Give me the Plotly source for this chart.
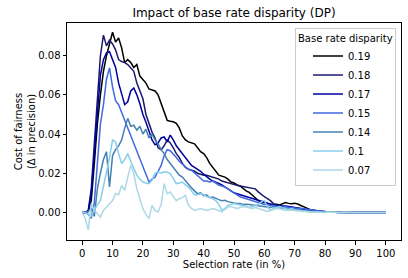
import plotly.graph_objects as go

selection_rate = list(range(0, 101))

disparities = ["0.19", "0.18", "0.17", "0.15", "0.14", "0.1", "0.07"]
colors = ["#000000", "#191970", "#00009c", "#4169e1", "#4682b4", "#87ceeb", "#add8e6"]

tail_zero = [0.0002, 0.0001, 0.0001, 0.0, 0.0, 0.0001, 0.0, 0.0, 0.0, 0.0, 0.0, 0.0, 0.0, 0.0, 0.0, 0.0, 0.0, 0.0, 0.0, 0.0]

cost_019 = [
    0.0, 0.0, 0.0005, 0.006, 0.025, 0.045, 0.060, 0.072, 0.080, 0.086,
    0.092, 0.087, 0.089, 0.084, 0.0765, 0.078, 0.0765, 0.074, 0.0755, 0.0696,
    0.068, 0.066, 0.063, 0.0625, 0.062, 0.060, 0.056, 0.052, 0.047, 0.0465,
    0.0463, 0.0455, 0.043, 0.039, 0.037, 0.036, 0.0355, 0.035, 0.033, 0.031,
    0.030, 0.028, 0.025, 0.023, 0.021, 0.019, 0.0185, 0.018, 0.017, 0.0155,
    0.015, 0.014, 0.0135, 0.012, 0.011, 0.0102, 0.009, 0.0075, 0.006, 0.0055,
    0.005, 0.0045, 0.004, 0.004, 0.0042, 0.0038, 0.0045, 0.005, 0.0046, 0.0044,
    0.0046, 0.0043, 0.0035, 0.003, 0.0022, 0.0015, 0.001, 0.0008, 0.0006, 0.0004,
    0.0003,
] + tail_zero

cost_018 = [
    0.0, 0.0, 0.001, 0.012, 0.035, 0.058, 0.080, 0.0905, 0.085, 0.088,
    0.086, 0.083, 0.078, 0.077, 0.0765, 0.0755, 0.074, 0.072, 0.066, 0.062,
    0.058, 0.050, 0.045, 0.041, 0.038, 0.033, 0.032, 0.034, 0.037, 0.0355,
    0.033, 0.030, 0.028, 0.025, 0.023, 0.022, 0.0215, 0.021, 0.020, 0.0195,
    0.019, 0.019, 0.0185, 0.018, 0.0175, 0.017, 0.016, 0.0155, 0.015, 0.0145,
    0.014, 0.0138, 0.0135, 0.0132, 0.013, 0.0128, 0.0125, 0.012, 0.0105, 0.009,
    0.008, 0.007, 0.006, 0.0045, 0.0036, 0.003, 0.0032, 0.003, 0.0028, 0.0025,
    0.0025, 0.002, 0.0018, 0.0015, 0.0012, 0.001, 0.0008, 0.0006, 0.0004, 0.0003,
    0.0002,
] + tail_zero

cost_017 = [
    0.0, 0.0, 0.0005, 0.010, 0.030, 0.052, 0.070, 0.078, 0.0815, 0.082,
    0.078, 0.074, 0.066, 0.060, 0.055, 0.0565, 0.062, 0.0635, 0.060, 0.0555,
    0.050, 0.046, 0.041, 0.037, 0.0345, 0.0355, 0.038, 0.0385, 0.036, 0.0395,
    0.037, 0.034, 0.032, 0.030, 0.028, 0.026, 0.024, 0.023, 0.022, 0.021,
    0.0195, 0.018, 0.017, 0.016, 0.0155, 0.0148, 0.014, 0.013, 0.012, 0.011,
    0.010, 0.0095, 0.009, 0.0085, 0.008, 0.0075, 0.007, 0.0065, 0.006, 0.0055,
    0.005, 0.0045, 0.004, 0.0038, 0.0035, 0.0035, 0.003, 0.0032, 0.003, 0.0028,
    0.0025, 0.0022, 0.002, 0.0018, 0.0015, 0.0012, 0.001, 0.0008, 0.0006, 0.0004,
    0.0002,
] + tail_zero

cost_015 = [
    0.0, 0.0, -0.001, -0.003, 0.005, 0.025, 0.045, 0.055, 0.068, 0.0738,
    0.064, 0.057, 0.055, 0.051, 0.047, 0.044, 0.040, 0.036, 0.032, 0.028,
    0.024, 0.019, 0.0155, 0.017, 0.018, 0.021, 0.024, 0.029, 0.032, 0.0315,
    0.030, 0.028, 0.026, 0.0245, 0.023, 0.022, 0.0215, 0.020, 0.019, 0.0175,
    0.016, 0.016, 0.0155, 0.016, 0.015, 0.014, 0.0135, 0.013, 0.012, 0.011,
    0.010, 0.009, 0.008, 0.0075, 0.007, 0.0065, 0.006, 0.0055, 0.005, 0.0045,
    0.004, 0.004, 0.0035, 0.0035, 0.003, 0.003, 0.0028, 0.003, 0.0025, 0.0025,
    0.0022, 0.002, 0.002, 0.0018, 0.0016, 0.0013, 0.001, 0.0008, 0.0005, 0.0003,
    0.0002,
] + tail_zero

cost_014 = [
    0.0, 0.0, 0.0005, 0.002, -0.002, 0.012, 0.020, 0.027, 0.031, 0.013,
    0.029, 0.032, 0.034, 0.037, 0.043, 0.048, 0.044, 0.0445, 0.042, 0.044,
    0.040, 0.0425, 0.038, 0.040, 0.037, 0.035, 0.032, 0.030, 0.027, 0.025,
    0.023, 0.021, 0.019, 0.018, 0.016, 0.014, 0.0125, 0.011, 0.0095, 0.010,
    0.0085, 0.009, 0.0075, 0.0078, 0.007, 0.0065, 0.006, 0.0062, 0.0055, 0.005,
    0.0048, 0.0045, 0.0045, 0.004, 0.0042, 0.004, 0.0038, 0.0035, 0.0035, 0.003,
    0.003, 0.0028, 0.0025, 0.003, 0.0025, 0.002, 0.0022, 0.002, 0.0018, 0.0015,
    0.0012, 0.0012, 0.001, 0.0008, 0.0006, 0.0005, 0.0004, 0.0003, 0.0002, 0.0001,
    0.0001,
] + tail_zero

cost_010 = [
    0.0, 0.0, -0.001, -0.002, 0.001, 0.004, 0.006, 0.013, 0.020, 0.028,
    0.037, 0.036, 0.030, 0.025, 0.027, 0.030, 0.026, 0.022, 0.019, 0.017,
    0.0155, 0.015, 0.0147, 0.0165, 0.020, 0.0207, 0.020, 0.0207, 0.0205, 0.0198,
    0.017, 0.0147, 0.015, 0.0155, 0.014, 0.013, 0.011, 0.009, 0.009, 0.0095,
    0.0092, 0.008, 0.0078, 0.007, 0.006, 0.004, 0.001, 0.002, 0.0036, 0.004,
    0.0045, 0.0042, 0.004, 0.0035, 0.003, 0.0025, 0.003, 0.0035, 0.004, 0.0055,
    0.006, 0.003, 0.001, 0.002, 0.0025, 0.003, 0.0022, 0.0018, 0.0015, 0.002,
    0.0012, 0.001, 0.0008, 0.0006, 0.0005, 0.0004, 0.0003, 0.0002, 0.0001, 0.0001,
    0.0,
] + tail_zero

cost_007 = [
    0.0, -0.003, -0.0089, 0.0045, 0.001, -0.001, -0.0024, 0.001, 0.0027, 0.004,
    0.006, 0.0096, 0.009, 0.0138, 0.0113, 0.018, 0.024, 0.0198, 0.012, 0.007,
    0.0019, -0.001, -0.0032, 0.0036, 0.001, 0.0002, 0.004, 0.0147, 0.0096, 0.0104,
    0.008, 0.006, 0.007, 0.0075, 0.0087, 0.0036, 0.002, 0.001, 0.0015, 0.002,
    0.0015, 0.001, 0.0015, 0.002, 0.0015, 0.001, 0.0002, 0.0015, 0.0027, 0.003,
    0.0025, 0.002, 0.0025, 0.003, 0.0028, 0.0022, 0.002, 0.0025, 0.002, 0.0015,
    0.001, 0.0005, 0.001, 0.0015, 0.002, 0.0018, 0.0015, 0.001, 0.0012, 0.001,
    0.0008, 0.0006, 0.0005, 0.0004, 0.0003, 0.0002, 0.0001, 0.0001, 0.0, 0.0,
    0.0,
] + tail_zero

series = [cost_019, cost_018, cost_017, cost_015, cost_014, cost_010, cost_007]

x_ticks = [0, 10, 20, 30, 40, 50, 60, 70, 80, 90, 100]
y_ticks = [0.00, 0.02, 0.04, 0.06, 0.08]

FONT = "DejaVu Sans"

fig = go.Figure()
for name, col, vals in zip(disparities, colors, series):
    fig.add_trace(go.Scatter(
        x=selection_rate, y=vals, mode="lines", name=name,
        line=dict(color=col, width=1.5),
    ))

axis_common = dict(
    showline=True, linecolor="black", linewidth=1, mirror=True,
    ticks="outside", ticklen=3.5, tickwidth=1, tickcolor="black",
    showgrid=False, zeroline=False,
    tickfont=dict(family=FONT, size=10, color="black"),
)

fig.update_layout(
    width=408, height=278,
    margin=dict(l=67, r=7, t=23, b=38),
    paper_bgcolor="white", plot_bgcolor="white",
    font=dict(family=FONT, size=10, color="black"),
    title=dict(
        text="Impact of base rate disparity (DP)",
        x=0.5, xref="paper", xanchor="center",
        y=1 - 13 / 278, yref="container", yanchor="middle",
        font=dict(family=FONT, size=12, color="black"),
    ),
    xaxis=dict(
        range=[-5, 105], tickvals=x_ticks,
        title=dict(text="Selection rate (in %)", standoff=3,
                   font=dict(family=FONT, size=10, color="black")),
        **axis_common,
    ),
    yaxis=dict(
        range=[-0.0141, 0.0967], tickvals=y_ticks, tickformat=".2f",
        title=dict(text="Cost of fairness<br>(Δ in precision)", standoff=0,
                   font=dict(family=FONT, size=10, color="black")),
        **axis_common,
    ),
    legend=dict(
        x=0.985, y=0.979, xanchor="right", yanchor="top",
        bgcolor="rgba(255,255,255,0.8)", bordercolor="#cccccc", borderwidth=1,
        font=dict(family=FONT, size=10, color="black"),
        title=dict(text="Base rate disparity", side="top",
                   font=dict(family=FONT, size=10, color="black")),
        indentation=12,
        tracegroupgap=0,
    ),
    showlegend=True,
)

fig.write_html(
    "out.html",
    config={"displayModeBar": False, "staticPlot": True},
    post_script="document.body.style.margin='0';document.body.style.overflow='hidden';",
)
